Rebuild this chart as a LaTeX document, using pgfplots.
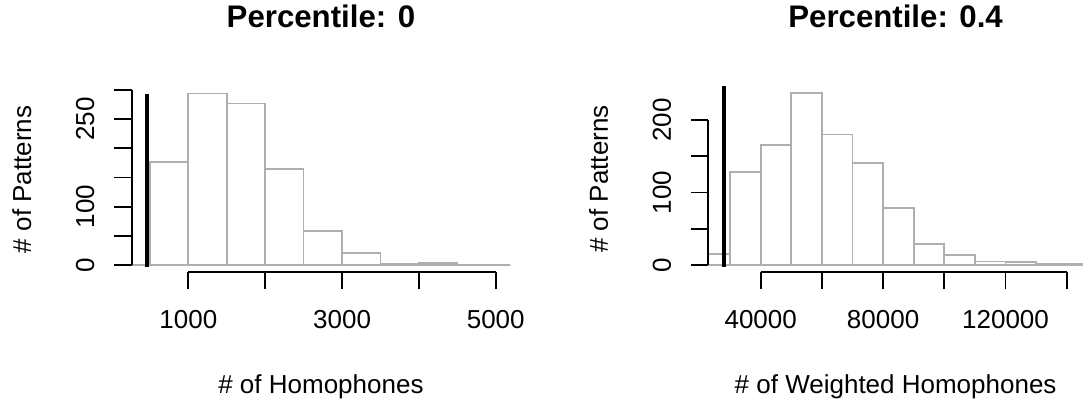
\documentclass[border=0pt]{standalone}
\usepackage{fontspec}
\setmainfont{Liberation Sans}
\usepackage{pgfplots}
\pgfplotsset{compat=1.18}
\definecolor{barc}{RGB}{175,175,175}
\newcommand{\lab}{\fontsize{26bp}{31bp}\selectfont}
\newcommand{\ttl}{\fontsize{31.2bp}{37bp}\selectfont\bfseries}
\pgfplotsset{
  histax/.style={scale only axis, anchor=south west, axis line style={draw=none}, ticks=none,
    enlargelimits=false, clip=true,
    title style={font=\ttl, at={(rel axis cs:0.5,1)}, anchor=base, inner sep=0pt},
    xlabel style={font=\lab, at={(rel axis cs:0.5,0)}, anchor=base, inner sep=0pt, yshift=-121.4bp},
    ylabel style={font=\lab, at={([xshift=-100.5bp]rel axis cs:0,0.5)}, anchor=base, inner sep=0pt}},
  xtickax/.style={scale only axis, anchor=south west, height=1bp, ymin=0, ymax=1, ytick=\empty,
    axis x line*=bottom, axis y line=none, enlargelimits=false,
    scaled x ticks=false,
    tick align=outside, major tick length=17.5bp,
    x axis line style={line width=1.8bp,-}, xtick style={black, line width=1.8bp},
    /pgf/number format/assume math mode=true,
    xticklabel style={font=\lab, anchor=base, inner sep=0pt, yshift=-39bp}},
  ytickax/.style={scale only axis, anchor=south west, width=1bp, xmin=0, xmax=1, xtick=\empty,
    axis y line*=left, axis x line=none, enlargelimits=false,
    scaled y ticks=false,
    tick align=outside, major tick length=17.5bp,
    y axis line style={line width=1.8bp,-}, ytick style={black, line width=1.8bp},
    /pgf/number format/assume math mode=true,
    yticklabel style={font=\lab, inner sep=0pt, xshift=-20bp, rotate=90, anchor=base}},
}
\begin{document}
\begin{tikzpicture}
\useasboundingbox (0,0) rectangle (1083bp,402bp);
% ---------- left panel ----------
\begin{axis}[histax, at={(131.6bp,130.1bp)}, width=378.7bp, height=185.2bp,
  xmin=262, xmax=5190, ymin=-11.76, ymax=305.76,
  title={Percentile: 0}, title style={yshift=53.4bp},
  xlabel={\# of Homophones}, ylabel={\# of Patterns}]
\addplot[ybar interval, draw=barc, fill=white, line width=1.8bp] coordinates {
  (0,0) (500,177) (1000,294) (1500,277) (2000,165) (2500,58) (3000,20)
  (3500,2) (4000,3) (4500,0) (5000,1) (5500,0)};
\addplot[black, line width=4bp] coordinates {(458,-3) (458,294)};
\end{axis}
\begin{axis}[xtickax, at={(188.35bp,130.1bp)}, width=307.4bp,
  xmin=1000, xmax=5000, xtick={1000,2000,3000,4000,5000},
  xticklabels={1000,,3000,,5000}]
\end{axis}
\begin{axis}[ytickax, at={(131.6bp,137bp)}, height=175bp,
  ymin=0, ymax=300, ytick={0,50,100,150,200,250,300},
  yticklabels={0,,100,,,250,}]
\end{axis}
% ---------- right panel ----------
\begin{axis}[histax, at={(708.3bp,130.1bp)}, width=374.6bp, height=185.6bp,
  xmin=22876, xmax=145300, ymin=-9.48, ymax=246.48,
  title={Percentile: 0.4}, title style={yshift=53bp},
  xlabel={\# of Weighted Homophones}, ylabel={\# of Patterns}]
\addplot[ybar interval, draw=barc, fill=white, line width=1.8bp] coordinates {
  (20000,15) (30000,128) (40000,165) (50000,237) (60000,180) (70000,141)
  (80000,79) (90000,29) (100000,14) (110000,5) (120000,4) (130000,2)
  (140000,1) (150000,0)};
\addplot[black, line width=4bp] coordinates {(28100,-2.3) (28100,246.5)};
\end{axis}
\begin{axis}[xtickax, at={(760.7bp,130.1bp)}, width=306bp,
  xmin=40000, xmax=140000, xtick={40000,60000,80000,100000,120000,140000},
  xticklabels={40000,,80000,,120000,}]
\end{axis}
\begin{axis}[ytickax, at={(708.3bp,137bp)}, height=145bp,
  ymin=0, ymax=200, ytick={0,50,100,150,200},
  yticklabels={0,,100,,200}]
\end{axis}
\end{tikzpicture}
\end{document}
